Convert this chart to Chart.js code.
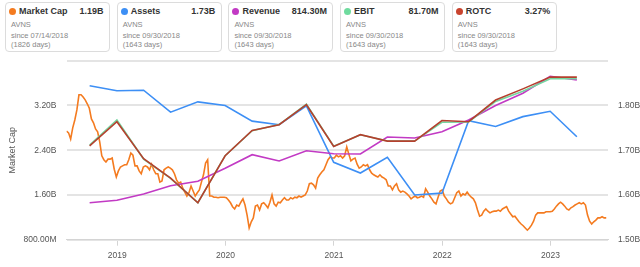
<!DOCTYPE html>
<html><head><meta charset="utf-8">
<script src="https://cdn.jsdelivr.net/npm/chart.js@4"></script>
<style>
html,body{margin:0;padding:0;background:#fff;}
body{width:640px;height:267px;position:relative;overflow:hidden;font-family:"Liberation Sans",Arial,sans-serif;}
.card{position:absolute;top:2px;width:105px;height:50px;border:1px solid #dcdcdc;border-radius:4px;box-sizing:border-box;background:#fff;}
.dot{position:absolute;left:3px;top:4.5px;width:7px;height:7px;border-radius:50%;}
.name{position:absolute;left:13px;top:3px;font-size:9px;font-weight:bold;color:#333;line-height:11px;white-space:nowrap;}
.val{position:absolute;right:5.5px;top:3px;font-size:9px;font-weight:bold;color:#333;line-height:11px;}
.sub{position:absolute;left:5px;font-size:7.5px;color:#888;line-height:9px;white-space:nowrap;}
#wrap{position:absolute;left:0;top:55px;width:640px;height:212px;}
</style></head>
<body>
<div id="cards"></div>
<div id="wrap"><canvas id="c"></canvas></div>
<script>
// ---- legend card data ----
const legendNames  = ['Market Cap','Assets','Revenue','EBIT','ROTC'];
const legendValues = ['1.19B','1.73B','814.30M','81.70M','3.27%'];
const legendTicker = ['AVNS','AVNS','AVNS','AVNS','AVNS'];
const legendSince  = ['since 07/14/2018','since 09/30/2018','since 09/30/2018','since 09/30/2018','since 09/30/2018'];
const legendDays   = ['(1826 days)','(1643 days)','(1643 days)','(1643 days)','(1643 days)'];

// ---- axes ----
const xStart = '2018-07-14', xEnd = '2023-07-14';
const xTickYears = [2019, 2020, 2021, 2022, 2023];
const leftTicks  = [0.8, 1.6, 2.4, 3.2, 4.0];   // billions
const rightTicks = [1.5, 1.6, 1.7, 1.8, 1.9];   // billions

// ---- quarterly series ----
const quarterDates = ['2018-09-30','2018-12-31','2019-03-31','2019-06-30','2019-09-30','2019-12-31',
  '2020-03-31','2020-06-30','2020-09-30','2020-12-31','2021-03-31','2021-06-30','2021-09-30',
  '2021-12-31','2022-03-31','2022-06-30','2022-09-30','2022-12-31','2023-03-31'];
const assets  = [1.844,1.833,1.834,1.785,1.808,1.800,1.765,1.757,1.799,1.673,1.649,1.684,1.600,1.604,1.766,1.753,1.775,1.787,1.730]; // B
const revenue = [649.6,652.8,661.3,672.4,678.3,695.7,714.0,705.5,719.3,715.3,714.9,737.7,736.4,744.8,760.5,779.9,796.3,819.1,814.3]; // M
const ebit    = [56.3,65.9,50.9,43.5,34.2,52.2,61.8,64.1,71.9,55.8,60.2,57.8,57.8,65.0,65.1,73.0,76.9,81.7,81.7]; // M
const rotc    = [2.10,2.51,1.88,1.55,1.13,1.93,2.36,2.46,2.80,2.09,2.29,2.18,2.18,2.53,2.51,2.88,3.07,3.27,3.27]; // %

// ---- weekly market cap (B), starting 2018-07-14 ----
const mcStepDays = 7;
const marketCap = [
2.74,2.71,2.60,2.80,2.94,3.12,3.39,3.39,3.35,3.30,3.23,3.15,2.96,2.89,2.78,2.73,2.55,2.30,2.23,2.19,
2.24,2.24,2.26,2.06,1.92,2.03,2.10,2.12,2.14,2.14,2.23,2.35,2.31,2.12,2.12,2.03,1.98,2.10,2.12,2.10,
2.05,2.15,2.05,1.98,1.98,1.83,1.85,2.05,2.08,2.10,2.08,2.05,1.98,1.87,1.81,1.83,1.72,1.65,1.58,1.64,
1.76,1.67,1.58,1.64,1.69,1.83,1.96,2.17,2.23,1.58,1.58,1.56,1.56,1.55,1.56,1.56,1.56,1.55,1.51,1.46,
1.39,1.35,1.42,1.40,1.47,1.53,1.42,1.24,1.01,1.12,1.19,1.40,1.42,1.33,1.44,1.46,1.42,1.37,1.47,1.60,
1.44,1.40,1.47,1.46,1.51,1.55,1.51,1.51,1.55,1.53,1.56,1.55,1.58,1.56,1.58,1.60,1.67,1.80,1.81,1.78,
1.72,1.90,1.96,2.01,2.05,2.14,2.23,2.28,2.26,2.26,2.31,2.28,2.30,2.26,2.30,2.46,2.33,2.21,2.24,2.26,
2.15,2.08,2.10,2.14,2.12,2.14,2.05,1.99,1.96,1.94,1.92,1.96,1.92,1.90,1.87,1.76,1.76,1.69,1.76,1.80,
1.69,1.65,1.67,1.65,1.62,1.58,1.53,1.56,1.58,1.55,1.56,1.58,1.56,1.71,1.65,1.58,1.53,1.47,1.44,1.56,
1.67,1.69,1.58,1.53,1.47,1.44,1.46,1.55,1.64,1.67,1.58,1.62,1.60,1.65,1.60,1.56,1.53,1.46,1.33,1.22,
1.24,1.31,1.35,1.31,1.28,1.30,1.31,1.31,1.33,1.31,1.35,1.37,1.39,1.31,1.26,1.21,1.22,1.17,1.12,1.08,
1.05,1.01,0.97,1.01,1.06,1.13,1.24,1.28,1.28,1.28,1.28,1.30,1.30,1.30,1.31,1.35,1.40,1.44,1.47,1.44,
1.40,1.35,1.33,1.37,1.39,1.42,1.44,1.46,1.44,1.46,1.42,1.24,1.13,1.08,1.12,1.15,1.19,1.19,1.21,1.19,
1.19];

// ---- colours ----
const colMC = '#f47b20', colAssets = '#3d8ff5', colRev = '#c23ac4', colEbit = '#74d6a0', colRotc = '#b5402e';
const legendColors = [colMC, colAssets, colRev, '#6fdb9e', '#c9432e'];

// build cards
const cards = document.getElementById('cards');
legendNames.forEach((n, i) => {
  const c = document.createElement('div');
  c.className = 'card';
  c.style.left = (5 + i * 111.7) + 'px';
  c.innerHTML = '<div class="dot" style="background:' + legendColors[i] + '"></div>' +
    '<div class="name">' + n + '</div><div class="val">' + legendValues[i] + '</div>' +
    '<div class="sub" style="top:16.5px">' + legendTicker[i] + '</div>' +
    '<div class="sub" style="top:27.5px">' + legendSince[i] + '</div>' +
    '<div class="sub" style="top:36.5px">' + legendDays[i] + '</div>';
  cards.appendChild(c);
});

const day = s => Date.UTC(+s.slice(0,4), +s.slice(5,7) - 1, +s.slice(8,10)) / 864e5;
const xMin = day(xStart), xMax = day(xEnd);
const mcPoints = marketCap.map((v, i) => ({x: xMin + i * mcStepDays, y: v}));
const q = arr => quarterDates.map((d, i) => ({x: day(d), y: arr[i]}));

const fmtB = v => v >= 1 ? v.toFixed(2) + 'B' : (v * 1000).toFixed(2) + 'M';
const tickFont = {family: '"Liberation Sans", Arial, sans-serif', size: 8.5};
const titleFont = {family: '"Liberation Sans", Arial, sans-serif', size: 9};
const line = (label, data, color, axis, order) => ({
  label, data, borderColor: color, backgroundColor: color, yAxisID: axis, order,
  borderWidth: 1.6, pointRadius: 0, tension: 0, fill: false
});

new Chart(document.getElementById('c'), {
  type: 'line',
  data: {datasets: [
    line('ROTC', q(rotc), colRotc, 'yRotc', 1),
    line('EBIT', q(ebit), colEbit, 'yEbit', 2),
    line('Revenue', q(revenue), colRev, 'yRev', 3),
    line('Assets', q(assets), colAssets, 'yR', 4),
    line('Market Cap', mcPoints, colMC, 'yL', 5)
  ]},
  options: {
    responsive: true, maintainAspectRatio: false, animation: false,
    layout: {padding: {top: 5.7, left: 0, right: 0, bottom: 0}},
    plugins: {legend: {display: false}, tooltip: {enabled: false}},
    scales: {
      x: {
        type: 'linear', position: 'bottom', min: xMin, max: xMax,
        afterBuildTicks: s => { s.ticks = xTickYears.map(y => ({value: day(y + '-01-01')})); },
        ticks: {callback: v => String(new Date(v * 864e5).getUTCFullYear()), color: '#555', font: tickFont, padding: 5, maxRotation: 0, autoSkip: false},
        grid: {display: true, drawOnChartArea: false, drawTicks: true, tickLength: 6, color: '#d4d4d4'},
        border: {display: true, color: '#d4d4d4', width: 1},
        afterFit: s => { s.height = 27.3; s.paddingLeft = 0; s.paddingRight = 0; }
      },
      yL: {
        position: 'left', min: 0.8, max: 4.0,
        afterBuildTicks: s => { s.ticks = leftTicks.map(v => ({value: v})); },
        ticks: {callback: v => v >= 3.99 ? '' : fmtB(v), color: '#555', font: tickFont, padding: 10},
        grid: {color: '#e4e4e4', lineWidth: 2, drawTicks: false},
        border: {display: false},
        title: {display: true, text: 'Market Cap', color: '#555', font: titleFont, padding: {top: 7, bottom: 0}},
        afterFit: s => { s.width = 66.5; s.paddingTop = 0; s.paddingBottom = 0; }
      },
      yR: {
        position: 'right', min: 1.5, max: 1.9,
        afterBuildTicks: s => { s.ticks = rightTicks.map(v => ({value: v})); },
        ticks: {callback: v => v >= 1.899 ? '' : fmtB(v), color: '#555', font: tickFont, padding: 10},
        grid: {display: false, drawTicks: false},
        border: {display: false},
        afterFit: s => { s.width = 32; s.paddingTop = 0; s.paddingBottom = 0; }
      },
      yRev:  {display: false, min: 600, max: 840},
      yEbit: {display: false, min: 20, max: 88.6},
      yRotc: {display: false, min: 0.5, max: 3.55}
    }
  }
});
</script>
</body></html>
